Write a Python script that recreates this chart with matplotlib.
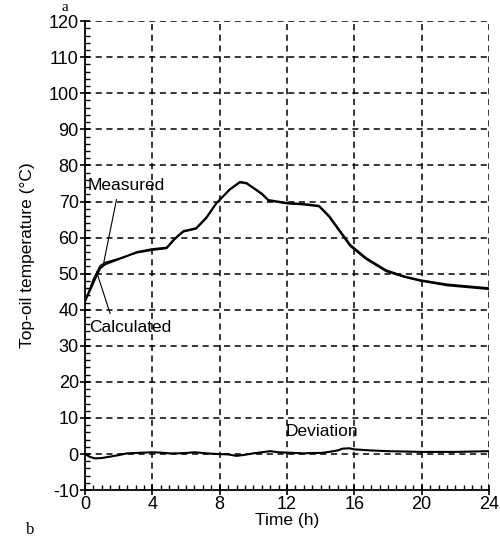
import matplotlib
matplotlib.use('Agg')
import matplotlib.pyplot as plt
from matplotlib.ticker import MultipleLocator

plt.rcParams['font.family'] = ['Liberation Sans', 'DejaVu Sans']
plt.rcParams['axes.unicode_minus'] = False

# ---- data ----
t_meas = [0, 0.5, 0.9, 1.2, 2.1, 3.1, 4.0, 4.85, 5.35, 5.85, 6.6, 7.2, 7.8,
          8.6, 9.2, 9.6, 10.0, 10.5, 10.9, 12.0, 13.0, 13.9, 14.5, 14.95,
          15.75, 16.7, 17.9, 19.0, 19.9, 21.5, 23.9, 24.0]
measured = [42.3, 47.5, 51.5, 52.6, 54.2, 56.0, 56.8, 57.2, 59.8, 61.8, 62.6,
            65.5, 69.5, 73.3, 75.3, 75.0, 73.8, 72.2, 70.4, 69.6, 69.3, 68.8,
            66.0, 63.1, 58.0, 54.3, 50.9, 49.2, 48.2, 47.0, 46.0, 45.9]
calculated = [42.3, 48.5, 52.2, 53.1, 54.3, 55.8, 56.5, 57.0, 59.6, 61.6,
              62.4, 65.3, 69.5, 73.4, 75.5, 75.2, 73.7, 72.0, 70.2, 69.4,
              69.1, 68.6, 65.7, 62.8, 57.6, 54.0, 50.6, 49.0, 48.0, 46.7,
              45.7, 45.6]

t_dev = [0, 0.3, 0.6, 1.0, 1.5, 2.0, 2.5, 3.0, 3.5, 4.0, 4.5, 5.0, 5.5, 6.0,
         6.5, 7.0, 7.5, 8.0, 8.5, 9.0, 9.5, 10.0, 10.5, 11.0, 11.5, 12.0,
         12.5, 13.0, 13.5, 14.0, 14.5, 15.0, 15.3, 15.7, 16.0, 17.0, 18.0,
         19.0, 20.0, 21.0, 22.0, 23.0, 24.0]
deviation = [0.0, -0.8, -1.2, -1.1, -0.7, -0.3, 0.2, 0.3, 0.4, 0.5, 0.4, 0.2,
             0.2, 0.3, 0.5, 0.3, 0.1, 0.0, -0.1, -0.5, -0.2, 0.2, 0.5, 0.8,
             0.5, 0.4, 0.3, 0.2, 0.3, 0.3, 0.6, 1.0, 1.5, 1.6, 1.3, 1.0, 0.8,
             0.7, 0.6, 0.6, 0.6, 0.7, 0.8]

x_ticks = [0, 4, 8, 12, 16, 20, 24]
y_ticks = list(range(-10, 121, 10))

fig = plt.figure(figsize=(5.0, 5.41), dpi=100)
ax = fig.add_axes([0.17, 0.094, 0.808, 0.867])

ax.plot(t_meas, measured, color='black', lw=1.5)
ax.plot(t_meas, calculated, color='black', lw=1.1)
ax.plot(t_dev, deviation, color='black', lw=1.5)

ax.set_xlim(0, 24)
ax.set_ylim(-10, 120)
ax.set_xticks(x_ticks)
ax.set_yticks(y_ticks)
ax.xaxis.set_minor_locator(MultipleLocator(0.5))
ax.yaxis.set_minor_locator(MultipleLocator(2))
ax.tick_params(which='major', direction='inout', length=7, width=1.2,
               labelsize=13, pad=1)
ax.tick_params(which='minor', direction='in', length=3.5, width=1.0)

# dashed grid (no lines on the axes themselves)
for x in x_ticks[1:]:
    ax.axvline(x, color='black', ls=(0, (4, 3)), lw=1.1, zorder=0)
for y in y_ticks[1:]:
    ax.axhline(y, color='black', ls=(0, (4, 3)), lw=1.1, zorder=0)

ax.spines['top'].set_visible(False)
ax.spines['right'].set_visible(False)
ax.spines['left'].set_linewidth(1.3)
ax.spines['bottom'].set_linewidth(1.3)

ax.set_xlabel('Time (h)', fontsize=12.5, labelpad=0)
ax.set_ylabel('Top-oil temperature (°C)', fontsize=12.5, labelpad=10)

# annotations with leader lines
ax.text(0.15, 74.5, 'Measured', fontsize=12.5, ha='left', va='center')
ax.plot([1.87, 1.09], [70.5, 52.5], color='black', lw=0.8)
ax.text(0.25, 35.2, 'Calculated', fontsize=12.5, ha='left', va='center')
ax.plot([0.69, 1.49], [50.5, 39.0], color='black', lw=0.8)
ax.text(14.1, 6.3, 'Deviation', fontsize=12.5, ha='center', va='center')

# panel letters from the scan
fig.text(0.122, 0.999, 'a', fontsize=11, ha='left', va='top',
         family='Liberation Serif')
fig.text(0.052, 0.005, 'b', fontsize=12, ha='left', va='bottom',
         family='Liberation Serif')

fig.savefig('out.png', dpi=100)
